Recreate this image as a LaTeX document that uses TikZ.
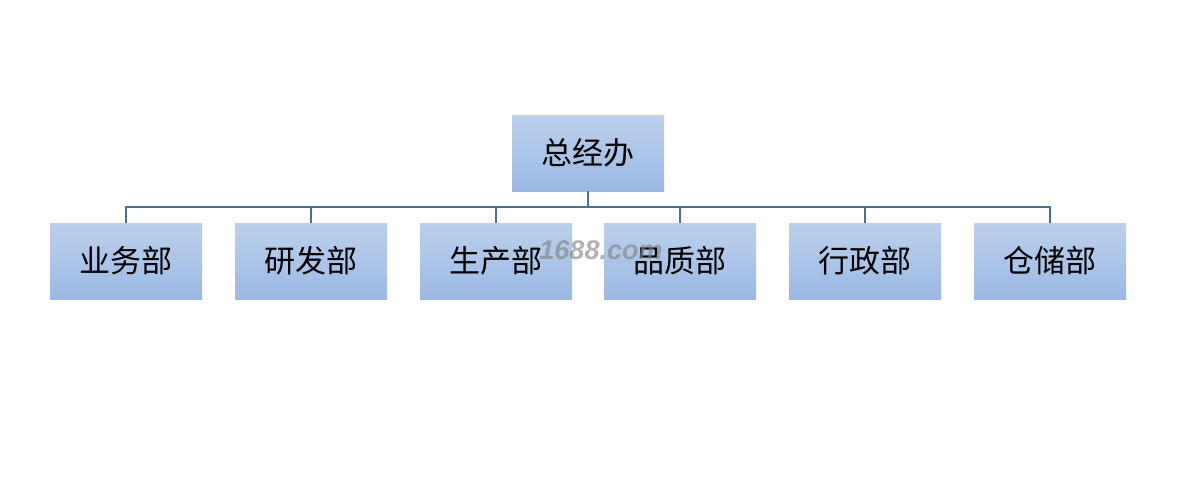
\documentclass[tikz,border=0pt]{standalone}
\usepackage{fontspec}
\newfontfamily\cjk{Noto Sans CJK SC}
\newfontfamily\wm{Liberation Sans}
\begin{document}
\begin{tikzpicture}[x=1pt,y=-1pt,
  box/.style={minimum width=152pt,minimum height=76pt,inner sep=0pt,
    top color=boxtop,bottom color=boxbot,draw=none,
    font=\cjk\fontsize{31}{32}\selectfont,text=black},
  link/.style={draw=linkc,line width=1.8pt}]
\definecolor{boxtop}{HTML}{BCD0EC}
\definecolor{boxbot}{HTML}{9BB9E5}
\definecolor{linkc}{HTML}{4A7096}
\useasboundingbox (0,0) rectangle (1192,498);
\fill[white] (0,0) rectangle (1192,498);
\node[box] (top) at (588,153) {总经办};
\node[box] (b1) at (126,261) {业务部};
\node[box] (b2) at (311,261) {研发部};
\node[box] (b3) at (496,261) {生产部};
\node[box] (b4) at (680,261) {品质部};
\node[box] (b5) at (865,261) {行政部};
\node[box] (b6) at (1050,261) {仓储部};
\coordinate (bus) at (588,207);
\draw[link] (top.south) -- (bus);
\draw[link] (b1.north) -- (b1.north |- bus) -- (b6.north |- bus) -- (b6.north);
\foreach \n in {b2,b3,b4,b5} \draw[link] (\n.north |- bus) -- (\n.north);
\node[font=\wm\bfseries\itshape\fontsize{27}{28}\selectfont,text=gray,opacity=0.6] (wmk) at (601,250) {1688.com};
\end{tikzpicture}
\end{document}
